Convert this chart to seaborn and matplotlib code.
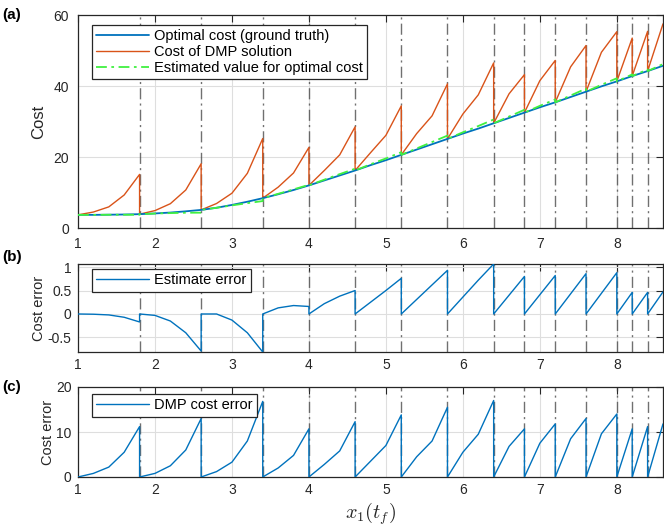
import matplotlib
matplotlib.use("Agg")
import matplotlib.pyplot as plt
import seaborn as sns

# ---------------- data ----------------
x_vals = [1.0, 1.2, 1.4, 1.6, 1.8,
          1.8, 2.0, 2.2, 2.4, 2.6,
          2.6, 2.8, 3.0, 3.2, 3.4,
          3.4, 3.6, 3.8, 4.0,
          4.0, 4.2, 4.4, 4.6,
          4.6, 4.8, 5.0, 5.2,
          5.2, 5.4, 5.6, 5.8,
          5.8, 6.0, 6.2, 6.4,
          6.4, 6.6, 6.8,
          6.8, 7.0, 7.2,
          7.2, 7.4, 7.6,
          7.6, 7.8, 8.0,
          8.0, 8.2,
          8.2, 8.4,
          8.4, 8.6]

optimal_cost = [3.7, 3.7, 3.75, 3.8, 3.9,
                3.9, 4.1, 4.35, 4.7, 5.1,
                5.1, 5.7, 6.5, 7.4, 8.4,
                8.4, 9.5, 10.7, 12.0,
                12.0, 13.4, 14.8, 16.2,
                16.2, 17.7, 19.1, 20.6,
                20.6, 22.1, 23.6, 25.1,
                25.1, 26.6, 28.0, 29.5,
                29.5, 31.0, 32.5,
                32.5, 34.0, 35.4,
                35.4, 36.9, 38.4,
                38.4, 39.9, 41.3,
                41.3, 42.8,
                42.8, 44.2,
                44.2, 45.7]

dmp_cost = [3.7, 4.5, 5.95, 9.3, 15.1,
            3.9, 4.9, 6.85, 10.7, 18.1,
            5.1, 6.9, 9.8, 15.4, 25.2,
            8.4, 11.5, 15.5, 22.7,
            12.0, 16.2, 20.6, 28.5,
            16.2, 21.2, 26.1, 34.4,
            20.6, 26.6, 31.6, 40.6,
            25.1, 32.1, 37.5, 46.5,
            29.5, 37.8, 43.2,
            32.5, 41.5, 47.2,
            35.4, 45.4, 51.4,
            38.4, 49.5, 55.3,
            41.3, 53.5,
            42.8, 55.4,
            44.2, 57.5]

estimated_cost = [3.7, 3.695, 3.73, 3.73, 3.73,
                  3.9, 4.07, 4.2, 4.3, 4.31,
                  5.1, 5.7, 6.37, 7.0, 7.59,
                  8.4, 9.63, 10.88, 12.16,
                  12.0, 13.62, 15.18, 16.7,
                  16.2, 17.95, 19.6, 21.36,
                  20.6, 22.41, 24.22, 26.03,
                  25.1, 26.96, 28.72, 30.565,
                  29.5, 31.4, 33.3,
                  32.5, 34.41, 36.22,
                  35.4, 37.33, 39.26,
                  38.4, 40.34, 42.18,
                  41.3, 43.26,
                  42.8, 44.66,
                  44.2, 46.17]

estimate_error = [0.0, -0.005, -0.02, -0.07, -0.17,
                  0.0, -0.03, -0.15, -0.4, -0.79,
                  0.0, 0.0, -0.13, -0.4, -0.81,
                  0.0, 0.13, 0.18, 0.16,
                  0.0, 0.22, 0.38, 0.5,
                  0.0, 0.25, 0.5, 0.76,
                  0.0, 0.31, 0.62, 0.93,
                  0.0, 0.36, 0.72, 1.065,
                  0.0, 0.4, 0.8,
                  0.0, 0.41, 0.82,
                  0.0, 0.43, 0.86,
                  0.0, 0.44, 0.88,
                  0.0, 0.46,
                  0.0, 0.46,
                  0.0, 0.47]

dmp_cost_error = [0.0, 0.8, 2.2, 5.5, 11.2,
                  0.0, 0.8, 2.5, 6.0, 13.0,
                  0.0, 1.2, 3.3, 8.0, 16.8,
                  0.0, 2.0, 4.8, 10.7,
                  0.0, 2.8, 5.8, 12.3,
                  0.0, 3.5, 7.0, 13.8,
                  0.0, 4.5, 8.0, 15.5,
                  0.0, 5.5, 9.5, 17.0,
                  0.0, 6.8, 10.7,
                  0.0, 7.5, 11.8,
                  0.0, 8.5, 13.0,
                  0.0, 9.6, 14.0,
                  0.0, 10.7,
                  0.0, 11.2,
                  0.0, 11.8]

breakpoints = [1.8, 2.6, 3.4, 4.0, 4.6, 5.2, 5.8, 6.4, 6.8, 7.2, 7.6, 8.0, 8.2, 8.4]
x_ticks = [1, 2, 3, 4, 5, 6, 7, 8]
cost_ticks = [0, 20, 40, 60]
est_ticks = [-0.5, 0, 0.5, 1]
est_tick_labels = ["-0.5", "0", "0.5", "1"]
err_ticks = [0, 10, 20]

# ---------------- style ----------------
sns.set_theme(style="white")
plt.rcParams["font.family"] = ["Liberation Sans", "DejaVu Sans"]
plt.rcParams["mathtext.fontset"] = "cm"

BLUE = "#0072BD"
ORANGE = "#D95319"
GREEN = "#40F040"
DARK = "#262626"
W, H = 664, 528

fig = plt.figure(figsize=(W / 100, H / 100), dpi=100)


def px_axes(top, bottom, left=78, right=663):
    return fig.add_axes([left / W, 1 - bottom / H, (right - left) / W, (bottom - top) / H])


ax_a = px_axes(15, 228)
ax_b = px_axes(264, 352)
ax_c = px_axes(387, 477)


def style_axes(ax, pad):
    ax.set_xlim(1, 8.6)
    ax.set_xticks(x_ticks)
    ax.grid(True, color="#dedede", lw=0.8)
    ax.set_axisbelow(True)
    for s in ax.spines.values():
        s.set_color(DARK)
        s.set_linewidth(0.9)
        s.set_visible(True)
    ax.tick_params(direction="in", length=5, width=0.8, top=True, right=True,
                   labelsize=10, colors=DARK, pad=pad)
    for bp in breakpoints:
        ax.axvline(bp, color="#404040", lw=1.0, ls=(0, (8, 3, 1.5, 3)),
                   alpha=0.75, zorder=1.5)


def legend(ax, top_frac):
    lg = ax.legend(loc="upper left", bbox_to_anchor=(0.0239, top_frac),
                   borderaxespad=0, fontsize=10.5, frameon=True, fancybox=False,
                   framealpha=1, edgecolor=DARK, handlelength=3.6,
                   handletextpad=0.35, borderpad=0.3, labelspacing=0.12)
    lg.get_frame().set_linewidth(0.9)
    for t in lg.get_texts():
        t.set_color("black")
    return lg


# ---- (a) ----
style_axes(ax_a, 6.5)
sns.lineplot(x=x_vals, y=optimal_cost, sort=False, estimator=None, ax=ax_a,
             color=BLUE, lw=1.3, label="Optimal cost (ground truth)", zorder=3)
sns.lineplot(x=x_vals, y=dmp_cost, sort=False, estimator=None, ax=ax_a,
             color=ORANGE, lw=1.0, label="Cost of DMP solution", zorder=2)
sns.lineplot(x=x_vals, y=estimated_cost, sort=False, estimator=None, ax=ax_a,
             color=GREEN, lw=1.3, label="Estimated value for optimal cost", zorder=4)
ax_a.lines[-1].set_linestyle((0, (6, 2.5, 1.5, 2.5)))
ax_a.set_ylim(0, 60)
ax_a.set_yticks(cost_ticks)
ax_a.set_ylabel("Cost", fontsize=12, color=DARK, labelpad=5)
legend(ax_a, 0.953)

# ---- (b) ----
style_axes(ax_b, 4.5)
sns.lineplot(x=x_vals, y=estimate_error, sort=False, estimator=None, ax=ax_b,
             color=BLUE, lw=1.0, label="Estimate error", zorder=3)
ax_b.set_ylim(min(estimate_error), max(estimate_error))
ax_b.set_yticks(est_ticks)
ax_b.set_yticklabels(est_tick_labels)
ax_b.set_ylabel("Cost error", fontsize=10.5, color=DARK, labelpad=1)
legend(ax_b, 0.943)

# ---- (c) ----
style_axes(ax_c, 4.5)
sns.lineplot(x=x_vals, y=dmp_cost_error, sort=False, estimator=None, ax=ax_c,
             color=BLUE, lw=1.0, label="DMP cost error", zorder=3)
ax_c.set_ylim(0, 20)
ax_c.set_yticks(err_ticks)
ax_c.set_ylabel("Cost error", fontsize=10.5, color=DARK, labelpad=1)
legend(ax_c, 0.922)

for ax in (ax_a, ax_b, ax_c):
    ax.set_xlabel("")

fig.text(0.5575, 1 - 514 / H, r"$x_1(t_f)$", ha="center", va="center", fontsize=14.5)
for lab, yc in (("(a)", 15), ("(b)", 257), ("(c)", 387)):
    fig.text(2 / W, 1 - yc / H, lab, ha="left", va="center", fontsize=11,
             fontweight="bold", color="black")

fig.savefig("out.png", dpi=100)
